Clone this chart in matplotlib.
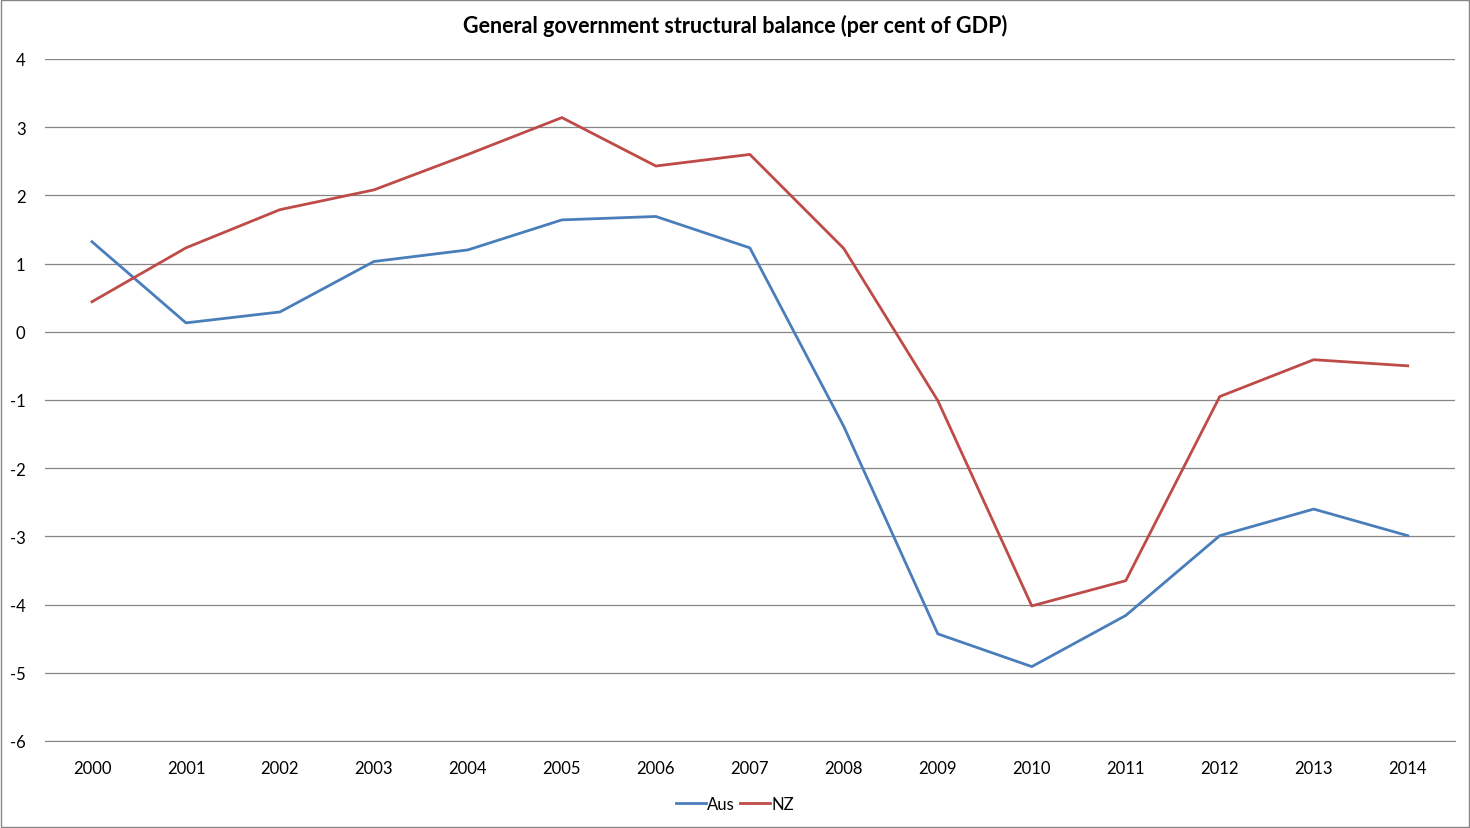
import numpy as np
import matplotlib.pyplot as plt
from matplotlib.patches import Rectangle

plt.rcParams['font.family'] = ['Lato', 'DejaVu Sans']
plt.rcParams['axes.unicode_minus'] = False

years = [str(y) for y in range(2000, 2015)]
aus = [1.32, 0.13, 0.29, 1.03, 1.20, 1.64, 1.69, 1.23, -1.39, -4.43, -4.91, -4.16, -2.99, -2.60, -2.99]
nz = [0.44, 1.23, 1.79, 2.08, 2.60, 3.14, 2.43, 2.60, 1.22, -1.01, -4.02, -3.65, -0.95, -0.41, -0.50]

fig = plt.figure(figsize=(14.7, 8.29), dpi=100)
ax = fig.add_axes([0.0306, 0.1050, 0.959, 0.8227])

x = np.arange(len(years))
ax.plot(x, aus, color="#4A7EBB", lw=2.0, label="Aus")
ax.plot(x, nz, color="#BE4B48", lw=2.0, label="NZ")

ax.set_xlim(-0.5, len(years) - 0.5)
ax.set_ylim(-6, 4)
ax.set_yticks(range(-6, 5))
ax.set_xticks(x)
ax.set_xticklabels(years)
ax.yaxis.grid(True, color="#868686", lw=0.9)
ax.set_axisbelow(True)
for s in ["top", "right", "left"]:
    ax.spines[s].set_visible(False)
ax.spines["bottom"].set_color("#868686")
ax.tick_params(axis="both", length=0, labelsize=12, colors="black")
ax.tick_params(axis="x", pad=14)
ax.tick_params(axis="y", pad=14)

fig.text(0.5, 0.969, "General government structural balance (per cent of GDP)",
         ha="center", va="center", fontsize=15.5, fontweight="bold")

fig.legend(loc="center", bbox_to_anchor=(0.5, 0.029), ncol=2, frameon=False,
           fontsize=12, handlelength=1.8, handletextpad=0.1, columnspacing=0.3)

fig.patches.append(Rectangle((0.001, 0.001), 0.998, 0.998, transform=fig.transFigure,
                             fill=False, edgecolor="#868686", lw=1))

fig.savefig("out.png", dpi=100)
